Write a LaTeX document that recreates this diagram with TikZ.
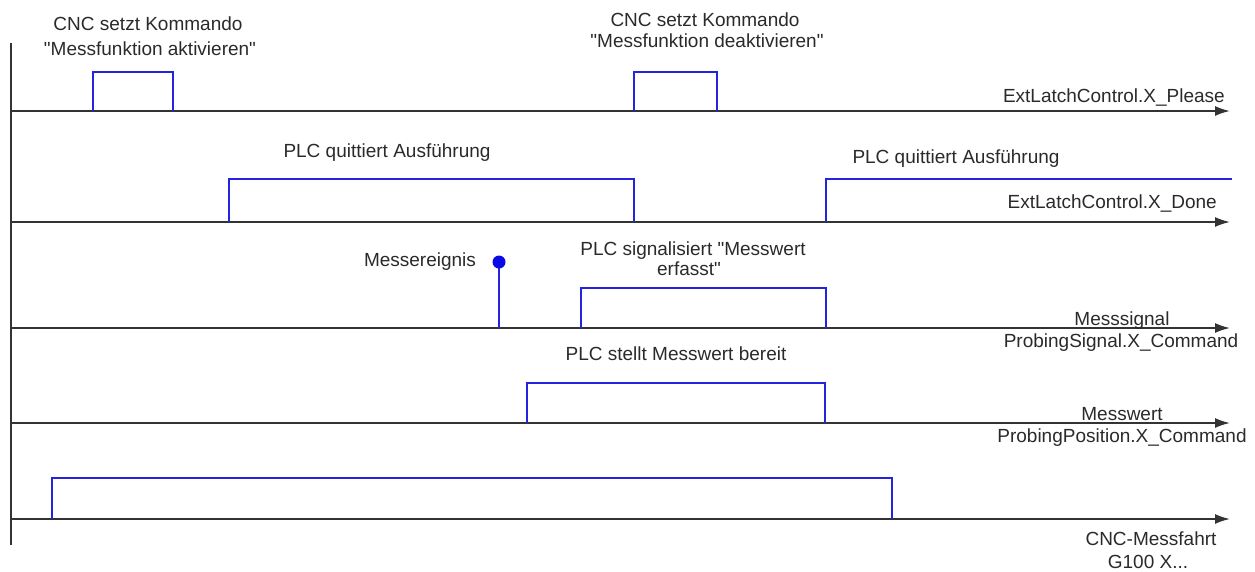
\documentclass[tikz,border=0pt]{standalone}
\usepackage{fontspec}
\setmainfont{Liberation Sans}[Ligatures=TeXOff]
\usetikzlibrary{arrows.meta}
\definecolor{axisgray}{HTML}{333333}
\definecolor{sigblue}{HTML}{2424E0}
\definecolor{dotblue}{HTML}{0A0AE6}
\definecolor{txtgray}{HTML}{2A2A2A}

\begin{document}
\begin{tikzpicture}[x=1pt,y=-1pt,
  axis/.style={draw=axisgray, line width=1.8pt, -{Latex[length=15pt,width=10pt]}},
  signal/.style={draw=sigblue, line width=1.7pt},
  lbl/.style={text=txtgray, font=\fontsize{19}{20}\selectfont, inner sep=0pt, anchor=base},
]
\useasboundingbox (0,0) rectangle (1255,571);

% time axis (vertical)
\coordinate (t0) at (11,43);
\coordinate (t1) at (11,545);
\draw[draw=axisgray, line width=1.8pt] (t0) -- (t1);

% signal axes
\coordinate (pl0) at (11,111);  \coordinate (pl1) at (1230,111);
\coordinate (dn0) at (11,222);  \coordinate (dn1) at (1230,222);
\coordinate (ms0) at (11,328);  \coordinate (ms1) at (1230,328);
\coordinate (mw0) at (11,423);  \coordinate (mw1) at (1230,423);
\coordinate (cn0) at (11,519);  \coordinate (cn1) at (1230,519);
\draw[axis] (pl0) -- (pl1);
\draw[axis] (dn0) -- (dn1);
\draw[axis] (ms0) -- (ms1);
\draw[axis] (mw0) -- (mw1);
\draw[axis] (cn0) -- (cn1);

% ExtLatchControl.X_Please pulses
\draw[signal] (93,111) -- (93,72) -- (173,72) -- (173,111);
\draw[signal] (634,111) -- (634,72) -- (717,72) -- (717,111);

% ExtLatchControl.X_Done
\draw[signal] (229,222) -- (229,179) -- (634,179) -- (634,222);
\draw[signal] (826,222) -- (826,179) -- (1232,179);

% probing event and probing signal
\coordinate (ev) at (499,262);
\draw[signal] (499,328) -- (ev);
\fill[dotblue] (ev) circle[radius=6.5];
\draw[signal] (581,328) -- (581,288) -- (826,288) -- (826,328);

% probing position
\draw[signal] (527,423) -- (527,383) -- (825,383) -- (825,423);

% CNC probing move
\draw[signal] (52,519) -- (52,478) -- (892,478) -- (892,519);

% labels
\node[lbl] (a1) at (148,30) {CNC setzt Kommando};
\node[lbl] (a2) at (150,55) {"Messfunktion aktivieren"};
\node[lbl] (b1) at (705,26) {CNC setzt Kommando};
\node[lbl] (b2) at (707,47) {"Messfunktion deaktivieren"};
\node[lbl, anchor=base east] (plz) at (1225,102) {ExtLatchControl.X\_Please};

\node[lbl] (q1) at (387,157) {PLC quittiert Ausführung};
\node[lbl] (q2) at (956,163) {PLC quittiert Ausführung};
\node[lbl, anchor=base east] (don) at (1217,208) {ExtLatchControl.X\_Done};

\node[lbl] (evl) at (420,266) {Messereignis};
\node[lbl] (s1) at (693,255) {PLC signalisiert "Messwert};
\node[lbl] (s2) at (689,275) {erfasst"};
\node[lbl] (msa) at (1122,325) {Messsignal};
\node[lbl] (msb) at (1121,347) {ProbingSignal.X\_Command};

\node[lbl] (pw) at (676,360) {PLC stellt Messwert bereit};
\node[lbl] (mwa) at (1122,420) {Messwert};
\node[lbl] (mwb) at (1122,442) {ProbingPosition.X\_Command};

\node[lbl] (cna) at (1151,545) {CNC-Messfahrt};
\node[lbl] (cnb) at (1148,568) {G100 X...};
\end{tikzpicture}
\end{document}
